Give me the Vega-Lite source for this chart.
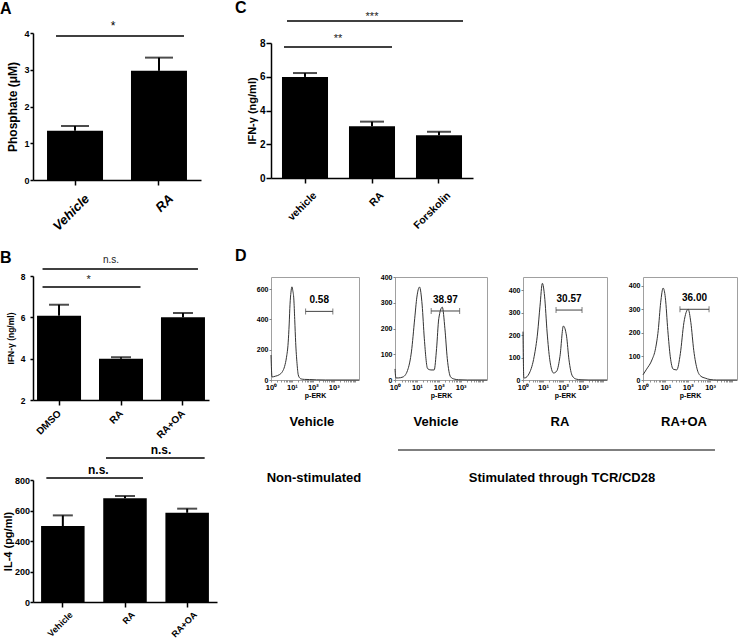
{
"$schema": "https://vega.github.io/schema/vega-lite/v6.json",
"background": "white",
"padding": {"left": 0, "top": 0, "right": 0, "bottom": 0},
"config": {
  "font": "Liberation Sans",
  "view": {"stroke": null},
  "axis": {"grid": false, "domainColor": "black", "domainWidth": 1.5, "tickColor": "black", "tickWidth": 1.5, "labelColor": "black", "titleColor": "black", "labelFontWeight": "bold", "titleFontWeight": "bold", "labelOverlap": false},
  "title": {"color": "black", "fontWeight": "bold", "fontSize": 16, "anchor": "start", "frame": "group", "baseline": "bottom"},
  "text": {"color": "black"}
},
"bounds": "full",
"spacing": 18,
"hconcat": [
 {
  "bounds": "full",
  "spacing": 15,
  "vconcat": [
   {
    "width": 168, "height": 147,
    "title": {"text": "A", "dx": -33, "offset": 3},
    "data": {"values": [{"treatment": "Vehicle", "mean": 1.34, "upper": 1.47}, {"treatment": "RA", "mean": 2.97, "upper": 3.33}]},
    "layer": [
     {"mark": {"type": "bar", "color": "black"},
      "encoding": {
       "x": {"field": "treatment", "type": "nominal", "scale": {"domain": ["Vehicle", "RA"], "paddingInner": 0.333, "paddingOuter": 0.167}, "axis": {"title": null, "labelAngle": -45, "tickSize": 5, "labelPadding": 7, "labelOffset": 8, "labelFontSize": 13, "labelFontStyle": "italic", "labelOverlap": false}},
       "y": {"field": "mean", "type": "quantitative", "scale": {"domain": [0, 4], "nice": false}, "axis": {"title": "Phosphate (μM)", "values": [0, 1, 2, 3, 4], "tickCount": 50, "format": "d", "tickSize": 3, "labelPadding": 1, "titlePadding": 4, "labelFontSize": 9, "titleFontSize": 12, "labelOverlap": false}}}},
     {"mark": {"type": "rule", "strokeWidth": 2, "color": "black"},
      "encoding": {"x": {"field": "treatment", "type": "nominal"}, "y": {"field": "mean", "type": "quantitative"}, "y2": {"field": "upper"}}},
     {"mark": {"type": "tick", "orient": "horizontal", "size": 28, "thickness": 2, "color": "black"},
      "encoding": {"x": {"field": "treatment", "type": "nominal"}, "y": {"field": "upper", "type": "quantitative"}}},
     {"data": {"values": [{"from": "Vehicle", "to": "RA", "line": 3.92, "label_y": 4.08, "label": "*"}]},
      "layer": [
       {"mark": {"type": "rule", "strokeWidth": 1.5, "color": "black", "xOffset": -19, "x2Offset": 25},
        "encoding": {"x": {"field": "from", "type": "nominal"}, "x2": {"field": "to"}, "y": {"field": "line", "type": "quantitative"}}},
       {"mark": {"type": "text", "dx": 38, "fontSize": 12, "baseline": "alphabetic", "color": "black"},
        "encoding": {"x": {"field": "from", "type": "nominal"}, "y": {"field": "label_y", "type": "quantitative"}, "text": {"field": "label"}}}
      ]}
    ]
   },
   {
    "title": {"text": "B", "dx": -33, "offset": -11},
    "bounds": "full",
    "spacing": 3,
    "vconcat": [
     {
      "width": 176, "height": 124,
      "data": {"values": [{"treatment": "DMSO", "mean": 6.08, "upper": 6.61}, {"treatment": "RA", "mean": 4.0, "upper": 4.07}, {"treatment": "RA+OA", "mean": 6.0, "upper": 6.21}]},
      "layer": [
       {"mark": {"type": "bar", "color": "black"},
        "encoding": {
         "x": {"field": "treatment", "type": "nominal", "scale": {"domain": ["DMSO", "RA", "RA+OA"], "paddingInner": 0.29, "paddingOuter": 0.065}, "axis": {"title": null, "labelAngle": -45, "tickSize": 5, "labelPadding": 3, "labelOffset": -3, "labelFontSize": 10, "labelOverlap": false}},
         "y": {"field": "mean", "type": "quantitative", "scale": {"domain": [2, 8], "nice": false, "zero": false}, "axis": {"title": "IFN-γ (ng/ml)", "values": [2, 4, 6, 8], "tickCount": 50, "format": "d", "tickSize": 3, "labelPadding": 5, "titlePadding": 5, "labelFontSize": 8.5, "titleFontSize": 8.5, "labelOverlap": false}},
         "y2": {"datum": 2}}},
       {"mark": {"type": "rule", "strokeWidth": 2, "color": "black"},
        "encoding": {"x": {"field": "treatment", "type": "nominal"}, "y": {"field": "mean", "type": "quantitative"}, "y2": {"field": "upper"}}},
       {"mark": {"type": "tick", "orient": "horizontal", "size": 20, "thickness": 2, "color": "black"},
        "encoding": {"x": {"field": "treatment", "type": "nominal"}, "y": {"field": "upper", "type": "quantitative"}}},
       {"data": {"values": [{"from": "DMSO", "to": "RA+OA", "at": "RA", "line": 8.34, "label_y": 8.63, "label": "n.s."}]},
        "layer": [
         {"mark": {"type": "rule", "strokeWidth": 1.5, "color": "black", "xOffset": -16.5, "x2Offset": 15},
          "encoding": {"x": {"field": "from", "type": "nominal"}, "x2": {"field": "to"}, "y": {"field": "line", "type": "quantitative"}}},
         {"mark": {"type": "text", "dx": -10, "fontSize": 10, "baseline": "alphabetic", "color": "#222"},
          "encoding": {"x": {"field": "at", "type": "nominal"}, "y": {"field": "label_y", "type": "quantitative"}, "text": {"field": "label"}}}
        ]},
       {"data": {"values": [{"from": "DMSO", "to": "RA", "at": "DMSO", "line": 7.47, "label_y": 7.66, "label": "*"}]},
        "layer": [
         {"mark": {"type": "rule", "strokeWidth": 1.5, "color": "black", "xOffset": -16.5, "x2Offset": 19.5},
          "encoding": {"x": {"field": "from", "type": "nominal"}, "x2": {"field": "to"}, "y": {"field": "line", "type": "quantitative"}}},
         {"mark": {"type": "text", "dx": 29.5, "fontSize": 11, "baseline": "alphabetic", "color": "#222"},
          "encoding": {"x": {"field": "at", "type": "nominal"}, "y": {"field": "label_y", "type": "quantitative"}, "text": {"field": "label"}}}
        ]}
      ]
     },
     {
      "width": 184, "height": 122,
      "data": {"values": [{"treatment": "Vehicle", "mean": 498, "upper": 568}, {"treatment": "RA", "mean": 680, "upper": 695}, {"treatment": "RA+OA", "mean": 585, "upper": 612}]},
      "layer": [
       {"mark": {"type": "bar", "color": "black"},
        "encoding": {
         "x": {"field": "treatment", "type": "nominal", "scale": {"domain": ["Vehicle", "RA", "RA+OA"], "paddingInner": 0.3, "paddingOuter": 0.13}, "axis": {"title": null, "labelAngle": -45, "tickSize": 5, "labelPadding": 3, "labelOffset": 5.5, "labelFontSize": 9, "labelOverlap": false}},
         "y": {"field": "mean", "type": "quantitative", "scale": {"domain": [0, 800], "nice": false}, "axis": {"title": "IL-4 (pg/ml)", "values": [0, 200, 400, 600, 800], "tickCount": 50, "format": "d", "tickSize": 3, "labelPadding": 0.5, "titlePadding": 1, "labelFontSize": 9, "titleFontSize": 11, "labelOverlap": false}}}},
       {"mark": {"type": "rule", "strokeWidth": 2, "color": "black"},
        "encoding": {"x": {"field": "treatment", "type": "nominal"}, "y": {"field": "mean", "type": "quantitative"}, "y2": {"field": "upper"}}},
       {"mark": {"type": "tick", "orient": "horizontal", "size": 20, "thickness": 2, "color": "black"},
        "encoding": {"x": {"field": "treatment", "type": "nominal"}, "y": {"field": "upper", "type": "quantitative"}}},
       {"data": {"values": [{"from": "Vehicle", "to": "RA", "at": "Vehicle", "line": 813, "label_y": 839, "label": "n.s."}]},
        "layer": [
         {"mark": {"type": "rule", "strokeWidth": 1.5, "color": "black", "xOffset": -16.5, "x2Offset": 18},
          "encoding": {"x": {"field": "from", "type": "nominal"}, "x2": {"field": "to"}, "y": {"field": "line", "type": "quantitative"}}},
         {"mark": {"type": "text", "dx": 35.5, "fontSize": 12, "fontWeight": "bold", "baseline": "alphabetic"},
          "encoding": {"x": {"field": "at", "type": "nominal"}, "y": {"field": "label_y", "type": "quantitative"}, "text": {"field": "label"}}}
        ]},
       {"data": {"values": [{"from": "RA", "to": "RA+OA", "at": "RA", "line": 944, "label_y": 970, "label": "n.s."}]},
        "layer": [
         {"mark": {"type": "rule", "strokeWidth": 1.5, "color": "black", "xOffset": -19, "x2Offset": 17.5},
          "encoding": {"x": {"field": "from", "type": "nominal"}, "x2": {"field": "to"}, "y": {"field": "line", "type": "quantitative"}}},
         {"mark": {"type": "text", "dx": 36, "fontSize": 12, "fontWeight": "bold", "baseline": "alphabetic"},
          "encoding": {"x": {"field": "at", "type": "nominal"}, "y": {"field": "label_y", "type": "quantitative"}, "text": {"field": "label"}}}
        ]}
      ]
     }
    ]
   }
  ]
 },
 {
  "bounds": "full",
  "spacing": 16,
  "vconcat": [
   {
    "width": 202, "height": 145,
    "title": {"text": "C", "dx": -36, "offset": -5},
    "data": {"values": [{"treatment": "vehicle", "mean": 5.99, "upper": 6.22}, {"treatment": "RA", "mean": 3.06, "upper": 3.34}, {"treatment": "Forskolin", "mean": 2.53, "upper": 2.74}]},
    "layer": [
     {"mark": {"type": "bar", "color": "black"},
      "encoding": {
       "x": {"field": "treatment", "type": "nominal", "scale": {"domain": ["vehicle", "RA", "Forskolin"], "paddingInner": 0.313, "paddingOuter": 0.164}, "axis": {"title": null, "labelAngle": -45, "tickSize": 5, "labelPadding": 7, "labelOffset": 6.5, "labelFontSize": 10.5, "labelOverlap": false}},
       "y": {"field": "mean", "type": "quantitative", "scale": {"domain": [0, 8], "nice": false, "range": [145, 10]}, "axis": {"title": "IFN-γ (ng/ml)", "values": [0, 2, 4, 6, 8], "tickCount": 50, "format": "d", "tickSize": 5, "labelPadding": 1, "titlePadding": 2, "labelFontSize": 10, "titleFontSize": 11, "labelOverlap": false}}}},
     {"mark": {"type": "rule", "strokeWidth": 2, "color": "black"},
      "encoding": {"x": {"field": "treatment", "type": "nominal"}, "y": {"field": "mean", "type": "quantitative"}, "y2": {"field": "upper"}}},
     {"mark": {"type": "tick", "orient": "horizontal", "size": 24, "thickness": 2, "color": "black"},
      "encoding": {"x": {"field": "treatment", "type": "nominal"}, "y": {"field": "upper", "type": "quantitative"}}},
     {"data": {"values": [{"from": "vehicle", "to": "Forskolin", "at": "RA", "line": 9.30, "label_y": 9.36, "label": "***"}]},
      "layer": [
       {"mark": {"type": "rule", "strokeWidth": 1.5, "color": "black", "xOffset": -18, "x2Offset": 24},
        "encoding": {"x": {"field": "from", "type": "nominal"}, "x2": {"field": "to"}, "y": {"field": "line", "type": "quantitative"}}},
       {"mark": {"type": "text", "dx": 0, "fontSize": 11, "baseline": "alphabetic", "color": "#222"},
        "encoding": {"x": {"field": "at", "type": "nominal"}, "y": {"field": "label_y", "type": "quantitative"}, "text": {"field": "label"}}}
      ]},
     {"data": {"values": [{"from": "vehicle", "to": "RA", "at": "vehicle", "line": 7.76, "label_y": 8.06, "label": "**"}]},
      "layer": [
       {"mark": {"type": "rule", "strokeWidth": 1.5, "color": "black", "xOffset": -21, "x2Offset": 20},
        "encoding": {"x": {"field": "from", "type": "nominal"}, "x2": {"field": "to"}, "y": {"field": "line", "type": "quantitative"}}},
       {"mark": {"type": "text", "dx": 33, "fontSize": 11, "baseline": "alphabetic", "color": "#222"},
        "encoding": {"x": {"field": "at", "type": "nominal"}, "y": {"field": "label_y", "type": "quantitative"}, "text": {"field": "label"}}}
      ]}
    ]
   },
   {
    "title": {"text": "D", "dx": -36, "offset": 9},
    "bounds": "flush",
    "spacing": 36,
    "hconcat": [
     {
      "width": 88, "height": 103,
      "view": {"stroke": "#a0a0a0"},
      "layer": [
       {"data": {"values": [{"intensity": 1, "count": 165}, {"intensity": 1.12, "count": 20}, {"intensity": 1.6, "count": 25}, {"intensity": 2.5, "count": 35}, {"intensity": 3.5, "count": 55}, {"intensity": 4.47, "count": 90}, {"intensity": 5.5, "count": 150}, {"intensity": 6.6, "count": 245}, {"intensity": 7.4, "count": 370}, {"intensity": 8.1, "count": 500}, {"intensity": 9, "count": 580}, {"intensity": 10, "count": 615}, {"intensity": 11, "count": 590}, {"intensity": 12.3, "count": 535}, {"intensity": 13.6, "count": 400}, {"intensity": 15.1, "count": 247}, {"intensity": 17.5, "count": 110}, {"intensity": 20, "count": 35}, {"intensity": 24, "count": 12}, {"intensity": 27.5, "count": 7}, {"intensity": 40, "count": 4}, {"intensity": 70, "count": 3}, {"intensity": 150, "count": 1}, {"intensity": 400, "count": 0}, {"intensity": 16000, "count": 0}]},
        "mark": {"type": "line", "color": "#333", "strokeWidth": 1, "interpolate": "monotone"},
        "encoding": {
         "x": {"field": "intensity", "type": "quantitative", "scale": {"type": "log", "domain": [1, 16000], "nice": false}, "axis": {"title": "p-ERK", "values": [1,2,3,4,5,6,7,8,9,10,20,30,40,50,60,70,80,90,100,200,300,400,500,600,700,800,900,1000,2000,3000,4000,5000,6000,7000,8000,9000,10000], "tickCount": 100, "labelExpr": "datum.value === 1 ? '10⁰' : datum.value === 10 ? '10¹' : datum.value === 100 ? '10²' : datum.value === 1000 ? '10³' : ''", "tickSize": 2, "tickColor": "#777", "tickWidth": 0.8, "domain": false, "labelFontSize": 7.5, "labelPadding": 1, "labelFlush": false, "labelOverlap": false, "titleFontSize": 7, "titlePadding": 1}},
         "y": {"field": "count", "type": "quantitative", "scale": {"domain": [0, 680], "nice": false}, "axis": {"title": null, "values": [0, 200, 400, 600], "tickCount": 50, "format": "d", "tickSize": 2, "tickColor": "#666", "tickWidth": 0.8, "domain": false, "labelFontSize": 7, "labelPadding": 1, "labelFlush": false, "labelOverlap": false}}}},
       {"data": {"values": [{"lo": 45, "hi": 900, "center": 201, "level": 453, "percent": "0.58"}]},
        "layer": [
         {"mark": {"type": "rule", "color": "#444", "strokeWidth": 1}, "encoding": {"x": {"field": "lo", "type": "quantitative"}, "x2": {"field": "hi"}, "y": {"field": "level", "type": "quantitative"}}},
         {"mark": {"type": "tick", "orient": "vertical", "size": 6, "thickness": 1, "color": "#444"}, "encoding": {"x": {"field": "lo", "type": "quantitative"}, "y": {"field": "level", "type": "quantitative"}}},
         {"mark": {"type": "tick", "orient": "vertical", "size": 6, "thickness": 1, "color": "#444"}, "encoding": {"x": {"field": "hi", "type": "quantitative"}, "y": {"field": "level", "type": "quantitative"}}},
         {"mark": {"type": "text", "fontSize": 10, "fontWeight": "bold", "dy": -8.4, "baseline": "alphabetic"}, "encoding": {"x": {"field": "center", "type": "quantitative"}, "y": {"field": "level", "type": "quantitative"}, "text": {"field": "percent"}}}
        ]}
      ]
     },
     {
      "width": 92, "height": 103,
      "view": {"stroke": "#a0a0a0"},
      "layer": [
       {"data": {"values": [{"intensity": 1, "count": 43}, {"intensity": 1.1, "count": 8}, {"intensity": 1.41, "count": 8}, {"intensity": 2.34, "count": 12}, {"intensity": 3.98, "count": 44}, {"intensity": 5.62, "count": 109}, {"intensity": 7.94, "count": 238}, {"intensity": 10, "count": 322}, {"intensity": 13.2, "count": 361}, {"intensity": 17.4, "count": 291}, {"intensity": 21.9, "count": 160}, {"intensity": 30.9, "count": 44}, {"intensity": 43.7, "count": 39}, {"intensity": 61.7, "count": 39}, {"intensity": 79.4, "count": 122}, {"intensity": 100, "count": 238}, {"intensity": 145, "count": 283}, {"intensity": 191, "count": 199}, {"intensity": 245, "count": 83}, {"intensity": 347, "count": 12}, {"intensity": 490, "count": 4}, {"intensity": 800, "count": 1}, {"intensity": 2000, "count": 0}, {"intensity": 16000, "count": 0}]},
        "mark": {"type": "line", "color": "#333", "strokeWidth": 1, "interpolate": "monotone"},
        "encoding": {
         "x": {"field": "intensity", "type": "quantitative", "scale": {"type": "log", "domain": [1, 16000], "nice": false}, "axis": {"title": "p-ERK", "values": [1,2,3,4,5,6,7,8,9,10,20,30,40,50,60,70,80,90,100,200,300,400,500,600,700,800,900,1000,2000,3000,4000,5000,6000,7000,8000,9000,10000], "tickCount": 100, "labelExpr": "datum.value === 1 ? '10⁰' : datum.value === 10 ? '10¹' : datum.value === 100 ? '10²' : datum.value === 1000 ? '10³' : ''", "tickSize": 2, "tickColor": "#777", "tickWidth": 0.8, "domain": false, "labelFontSize": 7.5, "labelPadding": 1, "labelFlush": false, "labelOverlap": false, "titleFontSize": 7, "titlePadding": 1}},
         "y": {"field": "count", "type": "quantitative", "scale": {"domain": [0, 400], "nice": false}, "axis": {"title": null, "values": [0, 100, 200, 300, 400], "tickCount": 50, "format": "d", "tickSize": 2, "tickColor": "#666", "tickWidth": 0.8, "domain": false, "labelFontSize": 7, "labelPadding": 1, "labelFlush": false, "labelOverlap": false}}}},
       {"data": {"values": [{"lo": 45, "hi": 900, "center": 201, "level": 268, "percent": "38.97"}]},
        "layer": [
         {"mark": {"type": "rule", "color": "#444", "strokeWidth": 1}, "encoding": {"x": {"field": "lo", "type": "quantitative"}, "x2": {"field": "hi"}, "y": {"field": "level", "type": "quantitative"}}},
         {"mark": {"type": "tick", "orient": "vertical", "size": 6, "thickness": 1, "color": "#444"}, "encoding": {"x": {"field": "lo", "type": "quantitative"}, "y": {"field": "level", "type": "quantitative"}}},
         {"mark": {"type": "tick", "orient": "vertical", "size": 6, "thickness": 1, "color": "#444"}, "encoding": {"x": {"field": "hi", "type": "quantitative"}, "y": {"field": "level", "type": "quantitative"}}},
         {"mark": {"type": "text", "fontSize": 10, "fontWeight": "bold", "dy": -8.4, "baseline": "alphabetic"}, "encoding": {"x": {"field": "center", "type": "quantitative"}, "y": {"field": "level", "type": "quantitative"}, "text": {"field": "percent"}}}
        ]}
      ]
     },
     {
      "width": 84, "height": 103,
      "view": {"stroke": "#a0a0a0"},
      "layer": [
       {"data": {"values": [{"intensity": 1, "count": 215}, {"intensity": 1.1, "count": 10}, {"intensity": 1.2, "count": 9}, {"intensity": 2.09, "count": 31}, {"intensity": 3.63, "count": 105}, {"intensity": 5.37, "count": 209}, {"intensity": 7.08, "count": 328}, {"intensity": 9.33, "count": 430}, {"intensity": 12.0, "count": 373}, {"intensity": 16.2, "count": 209}, {"intensity": 21.9, "count": 90}, {"intensity": 33.9, "count": 31}, {"intensity": 49, "count": 40}, {"intensity": 70.8, "count": 105}, {"intensity": 105, "count": 240}, {"intensity": 151, "count": 195}, {"intensity": 200, "count": 90}, {"intensity": 295, "count": 18}, {"intensity": 457, "count": 4}, {"intensity": 800, "count": 1}, {"intensity": 2000, "count": 0}, {"intensity": 16000, "count": 0}]},
        "mark": {"type": "line", "color": "#333", "strokeWidth": 1, "interpolate": "monotone"},
        "encoding": {
         "x": {"field": "intensity", "type": "quantitative", "scale": {"type": "log", "domain": [1, 16000], "nice": false}, "axis": {"title": "p-ERK", "values": [1,2,3,4,5,6,7,8,9,10,20,30,40,50,60,70,80,90,100,200,300,400,500,600,700,800,900,1000,2000,3000,4000,5000,6000,7000,8000,9000,10000], "tickCount": 100, "labelExpr": "datum.value === 1 ? '10⁰' : datum.value === 10 ? '10¹' : datum.value === 100 ? '10²' : datum.value === 1000 ? '10³' : ''", "tickSize": 2, "tickColor": "#777", "tickWidth": 0.8, "domain": false, "labelFontSize": 7.5, "labelPadding": 1, "labelFlush": false, "labelOverlap": false, "titleFontSize": 7, "titlePadding": 1}},
         "y": {"field": "count", "type": "quantitative", "scale": {"domain": [0, 458], "nice": false}, "axis": {"title": null, "values": [0, 100, 200, 300, 400], "tickCount": 50, "format": "d", "tickSize": 2, "tickColor": "#666", "tickWidth": 0.8, "domain": false, "labelFontSize": 7, "labelPadding": 1, "labelFlush": false, "labelOverlap": false}}}},
       {"data": {"values": [{"lo": 45, "hi": 900, "center": 201, "level": 311, "percent": "30.57"}]},
        "layer": [
         {"mark": {"type": "rule", "color": "#444", "strokeWidth": 1}, "encoding": {"x": {"field": "lo", "type": "quantitative"}, "x2": {"field": "hi"}, "y": {"field": "level", "type": "quantitative"}}},
         {"mark": {"type": "tick", "orient": "vertical", "size": 6, "thickness": 1, "color": "#444"}, "encoding": {"x": {"field": "lo", "type": "quantitative"}, "y": {"field": "level", "type": "quantitative"}}},
         {"mark": {"type": "tick", "orient": "vertical", "size": 6, "thickness": 1, "color": "#444"}, "encoding": {"x": {"field": "hi", "type": "quantitative"}, "y": {"field": "level", "type": "quantitative"}}},
         {"mark": {"type": "text", "fontSize": 10, "fontWeight": "bold", "dy": -8.4, "baseline": "alphabetic"}, "encoding": {"x": {"field": "center", "type": "quantitative"}, "y": {"field": "level", "type": "quantitative"}, "text": {"field": "percent"}}}
        ]}
      ]
     },
     {
      "width": 94, "height": 103,
      "view": {"stroke": "#a0a0a0"},
      "layer": [
       {"data": {"values": [{"intensity": 1, "count": 22}, {"intensity": 1.45, "count": 46}, {"intensity": 2.51, "count": 85}, {"intensity": 3.63, "count": 133}, {"intensity": 4.79, "count": 210}, {"intensity": 6.17, "count": 328}, {"intensity": 7.94, "count": 390}, {"intensity": 10, "count": 349}, {"intensity": 12.9, "count": 210}, {"intensity": 16.6, "count": 99}, {"intensity": 22.4, "count": 46}, {"intensity": 32.4, "count": 43}, {"intensity": 46.8, "count": 112}, {"intensity": 67.6, "count": 244}, {"intensity": 105, "count": 300}, {"intensity": 138, "count": 244}, {"intensity": 186, "count": 126}, {"intensity": 269, "count": 43}, {"intensity": 389, "count": 16}, {"intensity": 603, "count": 8}, {"intensity": 1000, "count": 2}, {"intensity": 2000, "count": 0}, {"intensity": 16000, "count": 0}]},
        "mark": {"type": "line", "color": "#333", "strokeWidth": 1, "interpolate": "monotone"},
        "encoding": {
         "x": {"field": "intensity", "type": "quantitative", "scale": {"type": "log", "domain": [1, 16000], "nice": false}, "axis": {"title": "p-ERK", "values": [1,2,3,4,5,6,7,8,9,10,20,30,40,50,60,70,80,90,100,200,300,400,500,600,700,800,900,1000,2000,3000,4000,5000,6000,7000,8000,9000,10000], "tickCount": 100, "labelExpr": "datum.value === 1 ? '10⁰' : datum.value === 10 ? '10¹' : datum.value === 100 ? '10²' : datum.value === 1000 ? '10³' : ''", "tickSize": 2, "tickColor": "#777", "tickWidth": 0.8, "domain": false, "labelFontSize": 7.5, "labelPadding": 1, "labelFlush": false, "labelOverlap": false, "titleFontSize": 7, "titlePadding": 1}},
         "y": {"field": "count", "type": "quantitative", "scale": {"domain": [0, 437], "nice": false}, "axis": {"title": null, "values": [0, 100, 200, 300, 400], "tickCount": 50, "format": "d", "tickSize": 2, "tickColor": "#666", "tickWidth": 0.8, "domain": false, "labelFontSize": 7, "labelPadding": 1, "labelFlush": false, "labelOverlap": false}}}},
       {"data": {"values": [{"lo": 45, "hi": 900, "center": 201, "level": 300, "percent": "36.00"}]},
        "layer": [
         {"mark": {"type": "rule", "color": "#444", "strokeWidth": 1}, "encoding": {"x": {"field": "lo", "type": "quantitative"}, "x2": {"field": "hi"}, "y": {"field": "level", "type": "quantitative"}}},
         {"mark": {"type": "tick", "orient": "vertical", "size": 6, "thickness": 1, "color": "#444"}, "encoding": {"x": {"field": "lo", "type": "quantitative"}, "y": {"field": "level", "type": "quantitative"}}},
         {"mark": {"type": "tick", "orient": "vertical", "size": 6, "thickness": 1, "color": "#444"}, "encoding": {"x": {"field": "hi", "type": "quantitative"}, "y": {"field": "level", "type": "quantitative"}}},
         {"mark": {"type": "text", "fontSize": 10, "fontWeight": "bold", "dy": -8.4, "baseline": "alphabetic"}, "encoding": {"x": {"field": "center", "type": "quantitative"}, "y": {"field": "level", "type": "quantitative"}, "text": {"field": "percent"}}}
        ]}
      ]
     }
    ]
   },
   {
    "width": 470, "height": 68,
    "layer": [
     {"data": {"values": [{"sample": "ns-vehicle", "label": "Vehicle"}, {"sample": "vehicle", "label": "Vehicle"}, {"sample": "ra", "label": "RA"}, {"sample": "ra-oa", "label": "RA+OA"}]},
      "mark": {"type": "text", "fontSize": 13, "fontWeight": "bold", "baseline": "middle"},
      "encoding": {
       "x": {"field": "sample", "type": "nominal", "scale": {"type": "point", "domain": ["ns-vehicle", "vehicle", "ra", "ra-oa"], "padding": 0.395, "align": 0.418}, "axis": null},
       "y": {"datum": "sample", "type": "nominal", "scale": {"type": "point", "domain": ["sample", "bracket", "condition"], "padding": 0.214}, "axis": null},
       "text": {"field": "label"}}},
     {"data": {"values": [{"from": "vehicle", "to": "ra-oa"}]},
      "mark": {"type": "rule", "strokeWidth": 1.2, "color": "black", "xOffset": -38, "x2Offset": 31},
      "encoding": {"x": {"field": "from", "type": "nominal"}, "x2": {"field": "to"}, "y": {"datum": "bracket", "type": "nominal"}}},
     {"data": {"values": [{"at": "ns-vehicle", "condition": "Non-stimulated"}, {"at": "ra", "condition": "Stimulated through TCR/CD28"}]},
      "mark": {"type": "text", "fontSize": 13, "fontWeight": "bold", "baseline": "middle", "dx": 2},
      "encoding": {"x": {"field": "at", "type": "nominal"}, "y": {"datum": "condition", "type": "nominal"}, "text": {"field": "condition"}}}
    ]
   }
  ]
 }
]
}
